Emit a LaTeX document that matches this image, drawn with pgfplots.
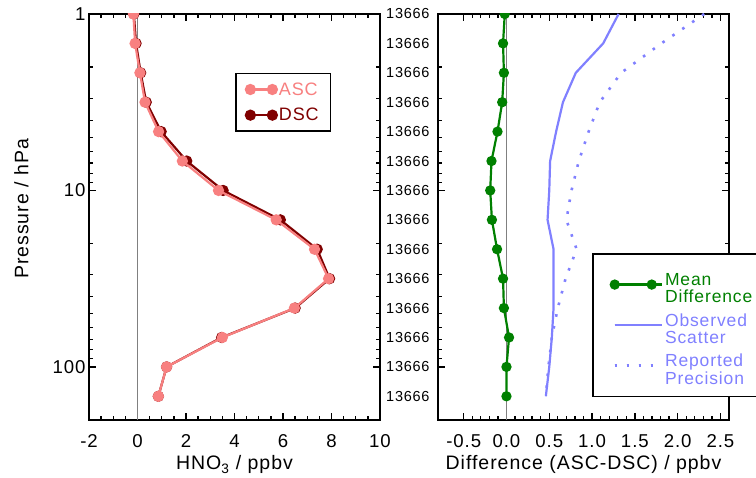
\documentclass[border=0pt]{standalone}
\usepackage{fontspec}
\setmainfont{Liberation Sans}[LetterSpace=5]
\usepackage{pgfplots}
\usepackage{pgfplotstable}
\pgfplotsset{compat=1.18}
\definecolor{asc}{RGB}{248,128,128}
\definecolor{dsc}{RGB}{128,0,0}
\definecolor{mdiff}{RGB}{0,128,0}
\definecolor{scat}{RGB}{128,128,255}
\newcommand\two[2]{\begin{tabular}{@{}l@{}}#1\\#2\end{tabular}}

\pgfplotstableread{
p asc dsc
1       -0.17 -0.15
1.4678  -0.10 -0.06
2.1544   0.10  0.13
3.1623   0.31  0.36
4.6416   0.87  0.975
6.8129   1.85  2.03
10       3.34  3.53
14.678   5.72  5.89
21.544   7.30  7.41
31.623   7.88  7.92
46.416   6.47  6.50
68.129   3.50  3.47
100      1.20  1.20
146.78   0.86  0.86
}\hnotab

\pgfplotstableread{
p diff scatter prec
1      -0.02  1.31 2.31
1.4678 -0.04  1.13 1.81
2.1544 -0.03  0.81 1.34
3.1623 -0.05  0.66 1.09
4.6416 -0.105 0.58 0.96
6.8129 -0.175 0.51 0.845
10     -0.19  0.50 0.76
14.678 -0.17  0.48 0.70
21.544 -0.11  0.55 0.82
31.623 -0.04  0.55 0.69
46.416 -0.03  0.55 0.60
68.129  0.03  0.53 0.53
100     0.00  0.50 0.49
146.78  0.00  0.46 0.46
}\difftab

\begin{document}
\begin{tikzpicture}
\begin{axis}[at={(89pt,58pt)}, anchor=south west,
  scale only axis, width=291pt, height=406pt,
  ymode=log, y dir=reverse, ymin=1, ymax=200,
  ytick={1,10,100}, minor ytick={2,3,4,5,6,7,8,9,20,30,40,50,60,70,80,90,200},
  axis line style={line width=1.6pt},
  tick style={line width=1.3pt, black},
  major tick length=7pt, minor tick length=4pt,
  tick label style={font=\fontsize{18.6}{20}\selectfont},
  xticklabel style={anchor=base, yshift=-28pt},
  label style={font=\fontsize{19.5}{22}\selectfont},
  xlabel style={at={(axis description cs:0.5,-0.123)}, anchor=base},
  clip marker paths=true,
  legend cell align=left,
  xmin=-2, xmax=10, xtick={-2,0,2,4,6,8,10}, xticklabels={-2,0,2,4,6,8,10},
  minor x tick num=3,
  yticklabels={1,10,100},
  xlabel={HNO\textsubscript{3} / ppbv},
  ylabel={Pressure / hPa},
  ylabel style={at={(axis description cs:-0.232,0.52)}, anchor=center},
  legend style={at={(0.502,0.8555)}, anchor=north west, draw=black, line width=1.6pt,
    inner xsep=10pt, inner ysep=7pt, row sep=7.6pt,
    font=\fontsize{18}{20}\selectfont},
  legend image code/.code={\draw[#1] plot coordinates {(0pt,0pt) (22pt,0pt)}; \path (0pt,0pt) -- (25pt,0pt);},
]
\addplot[gray, line width=1.2pt, forget plot] coordinates {(0,1) (0,200)};
\addplot[dsc, line width=2.2pt, mark=*, mark size=4.5pt, forget plot] table[x=dsc, y=p] {\hnotab};
\addplot[asc, line width=2.2pt, mark=*, mark size=4.5pt] table[x=asc, y=p] {\hnotab};
\addlegendentry{\textcolor{asc}{ASC}}
\addlegendimage{dsc, line width=2.2pt, mark=*, mark size=4.5pt}
\addlegendentry{\textcolor{dsc}{DSC}}
\end{axis}

\begin{axis}[at={(438pt,58pt)}, anchor=south west,
  scale only axis, width=291pt, height=406pt,
  ymode=log, y dir=reverse, ymin=1, ymax=200,
  ytick={1,10,100}, minor ytick={2,3,4,5,6,7,8,9,20,30,40,50,60,70,80,90,200},
  axis line style={line width=1.6pt},
  tick style={line width=1.3pt, black},
  major tick length=7pt, minor tick length=4pt,
  tick label style={font=\fontsize{18.6}{20}\selectfont},
  xticklabel style={anchor=base, yshift=-28pt},
  label style={font=\fontsize{19.5}{22}\selectfont},
  xlabel style={at={(axis description cs:0.5,-0.123)}, anchor=base},
  clip marker paths=true,
  legend cell align=left,
  xmin=-0.8, xmax=2.6, xtick={-0.5,0,0.5,1,1.5,2,2.5},
  xticklabels={-0.5,0.0,0.5,1.0,1.5,2.0,2.5},
  minor x tick num=4,
  yticklabels={},
  extra y ticks={1,1.4678,2.1544,3.1623,4.6416,6.8129,10,14.678,21.544,31.623,46.416,68.129,100,146.78},
  extra y tick labels={13666,13666,13666,13666,13666,13666,13666,13666,13666,13666,13666,13666,13666,13666},
  extra y tick style={major tick length=0pt, yticklabel style={font=\fontsize{14.5}{16}\selectfont, xshift=-5pt}},
  xlabel={Difference (ASC-DSC) / ppbv},
  legend style={at={(0.529,0.4106)}, anchor=north west, draw=black, line width=1.6pt,
    fill=white, inner xsep=18pt, inner ysep=17pt, row sep=13.5pt,
    font=\fontsize{17.5}{16}\selectfont},
  legend image code/.code={\draw[#1] plot coordinates {(0pt,0pt) (37pt,0pt)}; \path (0pt,0pt) -- (47pt,0pt);},
]
\addplot[gray, line width=1.2pt, forget plot] coordinates {(0,1) (0,200)};
\addplot[mdiff, line width=2.2pt, mark=*, mark size=4pt] table[x=diff, y=p] {\difftab};
\addlegendentry{\textcolor{mdiff}{\two{Mean}{Difference}}}
\addplot[scat, line width=2.2pt] table[x=scatter, y=p] {\difftab};
\addlegendentry{\textcolor{scat}{\two{Observed}{Scatter}}}
\addplot[scat, line width=2.6pt, dash pattern=on 2.6pt off 9.4pt] table[x=prec, y=p] {\difftab};
\addlegendentry{\textcolor{scat}{\two{Reported}{Precision}}}
\end{axis}
\pgfresetboundingbox
\path[use as bounding box] (0pt,0pt) rectangle (756pt,478pt);
\end{tikzpicture}
\end{document}
